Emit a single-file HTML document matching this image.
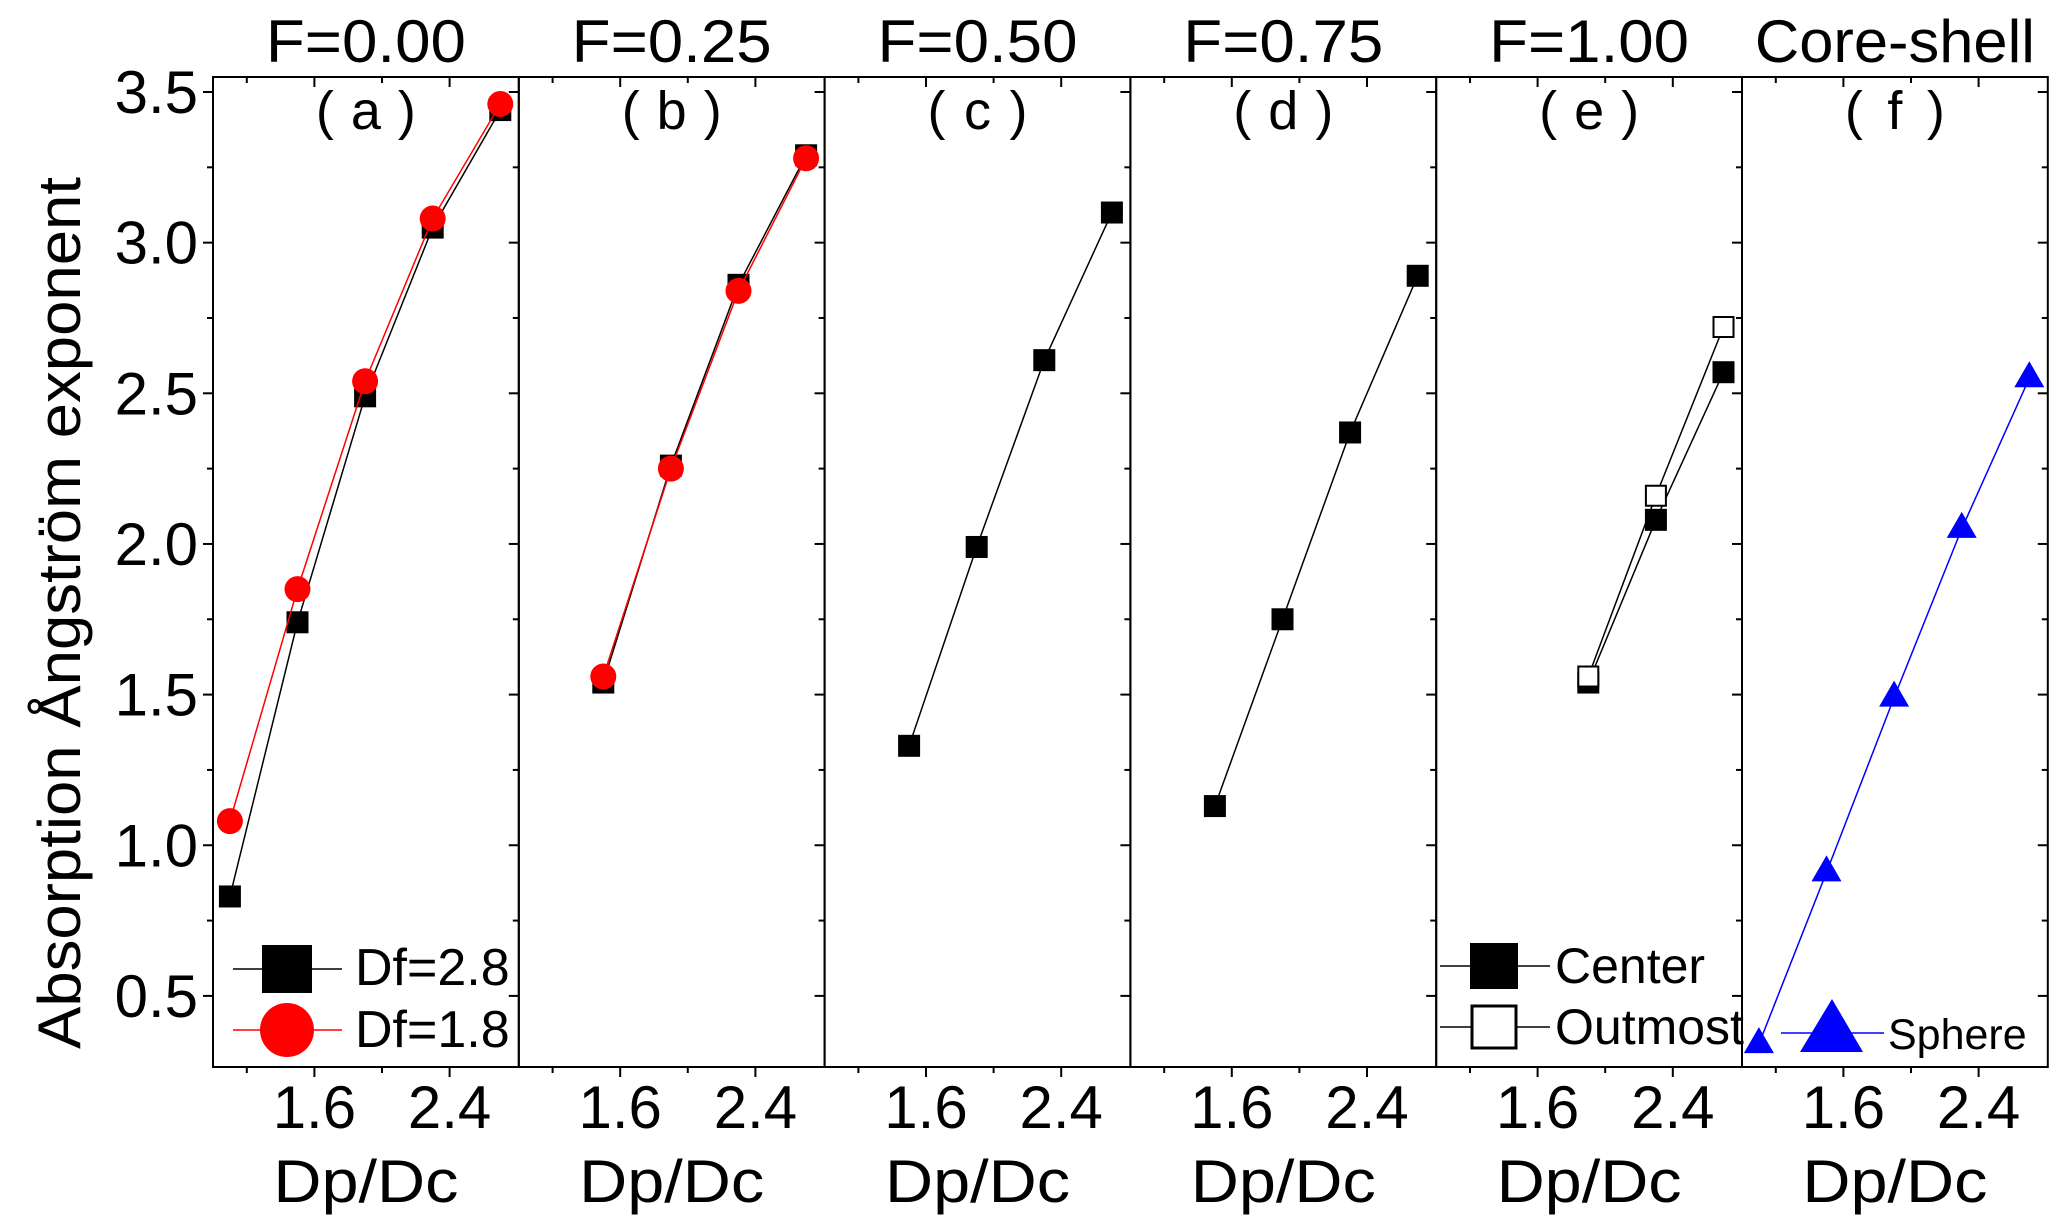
<!DOCTYPE html>
<html><head><meta charset="utf-8"><style>
html,body{margin:0;padding:0;background:#fff;}
svg{display:block;font-family:"Liberation Sans",Arial,sans-serif;}
</style></head><body>
<svg id="chart" width="2067" height="1232" viewBox="0 0 2067 1232" xmlns="http://www.w3.org/2000/svg">
<text x="80" y="613" font-size="60" text-anchor="middle" transform="rotate(-90 80 613)" textLength="872" lengthAdjust="spacingAndGlyphs">Absorption Ångström exponent</text>
<g id="panels"></g>
</svg>
<script>
const panelTitles = ["F=0.00","F=0.25","F=0.50","F=0.75","F=1.00","Core-shell"];
const panelLetters = ["( a )","( b )","( c )","( d )","( e )","( f )"];
const yTicks = [0.5,1.0,1.5,2.0,2.5,3.0,3.5];
const yTickLabels = ["0.5","1.0","1.5","2.0","2.5","3.0","3.5"];
const xTicks = [1.6,2.4];
const xTickLabels = ["1.6","2.4"];
const xMinor = [1.2,2.0,2.8];
const xA = [1.1,1.5,1.9,2.3,2.7];
const xB = [1.5,1.9,2.3,2.7];
const xE = [1.9,2.3,2.7];
const aDf28 = [0.83,1.74,2.49,3.05,3.44];
const aDf18 = [1.08,1.85,2.54,3.08,3.46];
const bDf28 = [1.54,2.26,2.86,3.29];
const bDf18 = [1.56,2.25,2.84,3.28];
const cDf28 = [1.33,1.99,2.61,3.10];
const dDf28 = [1.13,1.75,2.37,2.89];
const eCenter = [1.54,2.08,2.57];
const eOutmost = [1.56,2.16,2.72];
const fSphere = [0.34,0.91,1.49,2.05,2.55];

const NS="http://www.w3.org/2000/svg";
const P0=213, PW=305.8, TOP=77, BOT=1067;
const X0=1.0, XPX=169;
function yS(v){return 92+(3.5-v)*301.3;}
function xS(p,v){return P0+p*PW+(v-X0)*XPX;}
const g=document.getElementById('panels');
function el(tag,attrs,parent){const e=document.createElementNS(NS,tag);for(const k in attrs)e.setAttribute(k,attrs[k]);(parent||g).appendChild(e);return e;}
function txt(x,y,s,size,extra){const t=el('text',Object.assign({x:x,y:y,'font-size':size,'text-anchor':'middle'},extra||{}));t.textContent=s;return t;}

for(let p=0;p<6;p++){
  const L=P0+p*PW, R=L+PW, cx=L+PW/2;
  const frame=el('rect',{x:L,y:TOP,width:PW,height:BOT-TOP,fill:'none',stroke:'#000','stroke-width':2});
  
  
  const t=txt(cx,62,panelTitles[p],60,{textLength:p==5?280:200,lengthAdjust:'spacingAndGlyphs'});
  
  
  const lt=txt(cx,129,panelLetters[p],54,{textLength:100,lengthAdjust:'spacing'});
  
  
  xTicks.forEach((v,i)=>{
    const x=xS(p,v);
    el('line',{x1:x,x2:x,y1:BOT,y2:BOT+10,stroke:'#000','stroke-width':2});
    el('line',{x1:x,x2:x,y1:TOP,y2:TOP+10,stroke:'#000','stroke-width':2});
    const tl=txt(x,1128,xTickLabels[i],60);
    
    
  });
  xMinor.forEach(v=>{const x=xS(p,v);if(x<R-2){el('line',{x1:x,x2:x,y1:BOT,y2:BOT+6,stroke:'#000','stroke-width':2});el('line',{x1:x,x2:x,y1:TOP,y2:TOP+6,stroke:'#000','stroke-width':2});}});
  for(let v=0.5;v<=3.5;v+=0.25){const y=yS(v);const major=Math.abs(v*2-Math.round(v*2))<0.01;
    el('line',{x1:R-(major?10:6),x2:R,y1:y,y2:y,stroke:'#000','stroke-width':2});}
  const xl=txt(cx,1202,'Dp/Dc',60,{textLength:185,lengthAdjust:'spacingAndGlyphs'});
  
  
}
yTicks.forEach((v,i)=>{const y=yS(v);
  el('line',{x1:P0-10,x2:P0,y1:y,y2:y,stroke:'#000','stroke-width':2});
  const tl=txt(198,y+21,yTickLabels[i],60,{'text-anchor':'end'});
  
  
});
for(let v=0.75;v<3.5;v+=0.5){const y=yS(v);el('line',{x1:P0-6,x2:P0,y1:y,y2:y,stroke:'#000','stroke-width':2});}

function series(p,xs,ys,color,marker,name){
  const pts=xs.map((x,i)=>xS(p,x)+','+yS(ys[i])).join(' ');
  const pl=el('polyline',{points:pts,fill:'none',stroke:color,'stroke-width':1.5});
  
  
  xs.forEach((x,i)=>{
    const px=xS(p,x), py=yS(ys[i]); let m;
    if(marker=='sq') m=el('rect',{x:px-11,y:py-11,width:22,height:22,fill:'#000'});
    else if(marker=='osq') m=el('rect',{x:px-10,y:py-10,width:20,height:20,fill:'#fff',stroke:'#000','stroke-width':2});
    else if(marker=='ci') m=el('circle',{cx:px,cy:py,r:13,fill:'#f00'});
    else m=el('polygon',{points:(px-15)+','+(py+9)+' '+(px+15)+','+(py+9)+' '+px+','+(py-17),fill:'#00f'});
    
    
  });
}
series(0,xA,aDf28,'#000','sq','a-df28');
series(0,xA,aDf18,'#f00','ci','a-df18');
series(1,xB,bDf28,'#000','sq','b-df28');
series(1,xB,bDf18,'#f00','ci','b-df18');
series(2,xB,cDf28,'#000','sq','c-df28');
series(3,xB,dDf28,'#000','sq','d-df28');
series(4,xE,eCenter,'#000','sq','e-center');
series(4,xE,eOutmost,'#000','osq','e-outmost');
series(5,xA,fSphere,'#00f','tri','f-sphere');

// legends
let lg=el('g',{});


el('line',{x1:233,x2:342,y1:969,y2:969,stroke:'#000','stroke-width':1.5},lg);
el('rect',{x:262,y:945,width:50,height:48,fill:'#000'},lg);
txt(355,985,'Df=2.8',52,{'text-anchor':'start'});
el('line',{x1:233,x2:342,y1:1030,y2:1030,stroke:'#f00','stroke-width':1.5},lg);
el('circle',{cx:287,cy:1030,r:27,fill:'#f00'},lg);
txt(355,1047,'Df=1.8',52,{'text-anchor':'start'});
lg=el('g',{});


el('line',{x1:1440,x2:1550,y1:966,y2:966,stroke:'#000','stroke-width':1.5},lg);
el('rect',{x:1470,y:943,width:48,height:46,fill:'#000'},lg);
txt(1555,983,'Center',50,{'text-anchor':'start'});
el('line',{x1:1440,x2:1550,y1:1027,y2:1027,stroke:'#000','stroke-width':1.5},lg);
el('rect',{x:1472,y:1006,width:44,height:42,fill:'#fff',stroke:'#000','stroke-width':3},lg);
txt(1555,1044,'Outmost',50,{'text-anchor':'start'});
lg=el('g',{});


el('line',{x1:1781,x2:1884,y1:1033,y2:1033,stroke:'#00f','stroke-width':1.5},lg);
el('polygon',{points:'1800,1052 1863,1052 1832,999',fill:'#00f'},lg);
txt(1888,1049,'Sphere',43,{'text-anchor':'start'});
</script>
</body></html>
